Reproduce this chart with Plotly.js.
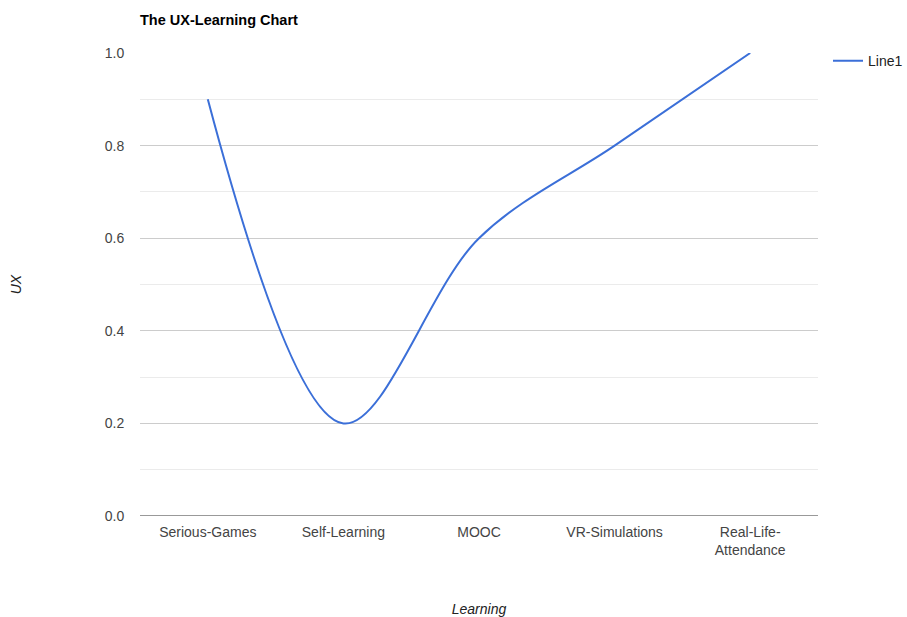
<!DOCTYPE html>
<html>
<head>
<meta charset="utf-8">
<script src="https://cdn.plot.ly/plotly-3.0.1.min.js"></script>
<style>html,body{margin:0;padding:0;background:#fff;}#chart{width:907px;height:617px;}</style>
</head>
<body>
<div id="chart"></div>
<script>
const categories = ["Serious-Games", "Self-Learning", "MOOC", "VR-Simulations", "Real-Life-Attendance"];
const tickLabels = ["Serious-Games", "Self-Learning", "MOOC", "VR-Simulations", "Real-Life-<br>Attendance"];
const line1 = [0.9, 0.2, 0.6, 0.8, 1.0];
const yTicks = [0, 0.2, 0.4, 0.6, 0.8, 1.0];
const yTickText = ["0.0", "0.2", "0.4", "0.6", "0.8", "1.0"];

const idx = categories.map((c, i) => i);

const trace = {
  x: idx,
  y: line1,
  type: 'scatter',
  mode: 'lines',
  name: 'Line1',
  line: {color: '#3b6fd8', width: 2, shape: 'spline', smoothing: 1},
  hoverinfo: 'none'
};

const layout = {
  width: 907, height: 617,
  margin: {l: 140, r: 89, t: 53, b: 101, pad: 0, autoexpand: false},
  paper_bgcolor: '#fff', plot_bgcolor: '#fff',
  font: {family: 'Arial, "Liberation Sans", sans-serif', size: 14, color: '#444'},
  title: {text: '<b>The UX-Learning Chart</b>', x: 140/907, xanchor: 'left', xref: 'container', y: 1 - 20/617, yanchor: 'middle', font: {size: 14.5, color: '#000'}},
  showlegend: true,
  legend: {x: 1 + 10/678, xanchor: 'left', y: 1.017, yanchor: 'top', font: {size: 14, color: '#222'}, bgcolor: 'rgba(0,0,0,0)'},
  xaxis: {
    range: [-0.5, 4.5],
    tickmode: 'array', tickvals: idx, ticktext: tickLabels,
    showgrid: false, zeroline: false, showline: false,
    ticks: 'outside', ticklen: 3, tickcolor: 'rgba(0,0,0,0)',
    tickfont: {size: 14, color: '#444'},
    fixedrange: true,
    title: {text: '<i>Learning</i>', font: {size: 14, color: '#222'}, standoff: 48}
  },
  yaxis: {
    range: [0, 1.0],
    tickmode: 'array', tickvals: yTicks, ticktext: yTickText,
    showgrid: true, gridcolor: '#cccccc', gridwidth: 1,
    minor: {dtick: 0.1, showgrid: true, gridcolor: '#ebebeb', gridwidth: 1},
    zeroline: false, showline: false,
    ticks: 'outside', ticklen: 12, tickcolor: 'rgba(0,0,0,0)',
    tickfont: {size: 14, color: '#444'},
    fixedrange: true,
    title: {text: '<i>UX</i>', font: {size: 14, color: '#222'}, standoff: 79}
  },
  shapes: [{type: 'line', xref: 'paper', yref: 'y', x0: 0, x1: 1, y0: 0, y1: 0, line: {color: '#333', width: 1}}]
};

Plotly.newPlot('chart', [trace], layout, {displayModeBar: false, staticPlot: true});
</script>
</body>
</html>
